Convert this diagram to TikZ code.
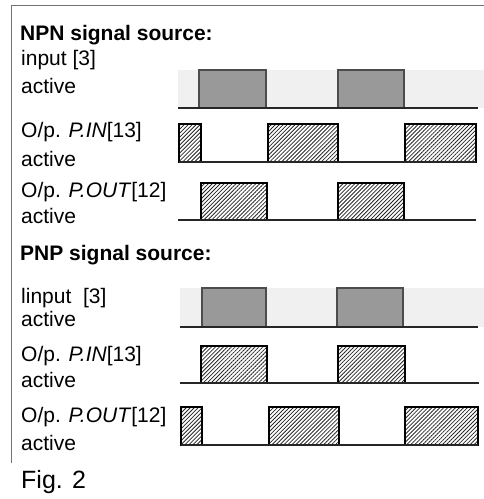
\documentclass[tikz,border=0pt]{standalone}
\usepackage{fontspec}
\setmainfont{Liberation Sans}
\usetikzlibrary{patterns.meta, positioning}

\begin{document}
\begin{tikzpicture}[
            x=1pt, y=-1pt,
            every node/.style={inner sep=0pt, anchor=base west, font=\fontsize{21}{25}\selectfont},
            head/.style={font=\fontsize{21}{25}\selectfont\bfseries},
            band/.style={fill=black!6, draw=none},
            pulse/.style={fill=black!40, draw=black!70, line width=1.2pt},
            hatch/.style={pattern={Lines[angle=45, distance=2.8pt, line width=0.8pt]}, pattern color=black!85, draw=black, line width=1.4pt},
            sigline/.style={draw=black!85, line width=1.6pt},
            frame/.style={draw=black!55, line width=0.9pt}
          ]
            \useasboundingbox (0,0) rectangle (484,499);
            \draw[frame] (11,463) -- (11,5) -- (484,5);

            % NPN
            \node[head] (npn) at (20,40) {NPN signal source:};
            \node (in1) at (21,65) {input [3]};
            \node (in1b) at (21,93) {active};
            \node (pin1) at (21,137) {O/p. \textit{P.IN}[13]};
            \node (pin1b) at (21,166) {active};
            \node (pout1) at (21,197) {O/p. \textit{P.OUT}[12]};
            \node (pout1b) at (21,223) {active};

            \fill[band] (178,70) rectangle (484,108);
            \foreach \a/\b in {199/266, 338/404}
              \draw[pulse] (\a,108) rectangle (\b,70);
            \draw[sigline] (178,108) -- (478,108);

            \foreach \a/\b in {179/201, 268/338, 405/476}
              \draw[hatch] (\a,162) rectangle (\b,124);
            \draw[sigline] (179,162) -- (476,162);

            \foreach \a/\b in {201/267, 338/404}
              \draw[hatch] (\a,220) rectangle (\b,183);
            \draw[sigline] (178,220) -- (476,220);

            % PNP
            \node[head] (pnp) at (20,260) {PNP signal source:};
            \node (in2) at (21,303) {linput~ [3]};
            \node (in2b) at (21,326) {active};
            \node (pin2) at (21,361) {O/p. \textit{P.IN}[13]};
            \node (pin2b) at (21,387) {active};
            \node (pout2) at (21,422) {O/p. \textit{P.OUT}[12]};
            \node (pout2b) at (21,450) {active};

            \fill[band] (180,288) rectangle (484,327);
            \foreach \a/\b in {202/266, 337/403}
              \draw[pulse] (\a,327) rectangle (\b,288);
            \draw[sigline] (180,327) -- (478,327);

            \foreach \a/\b in {201/267, 338/405}
              \draw[hatch] (\a,383) rectangle (\b,346);
            \draw[sigline] (180,383) -- (479,383);

            \foreach \a/\b in {181/202, 269/339, 405/478}
              \draw[hatch] (\a,445) rectangle (\b,407);
            \draw[sigline] (181,445) -- (478,445);

            \node[font=\fontsize{25}{29}\selectfont] (fig) at (21,488) {Fig. 2};
          \end{tikzpicture}
\end{document}
